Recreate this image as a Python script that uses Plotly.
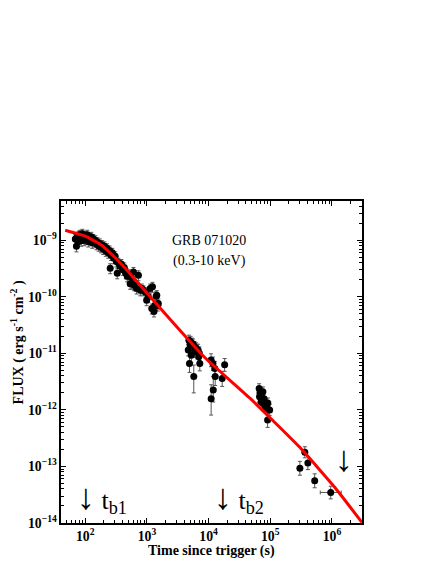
import plotly.graph_objects as go

SERIF = "Liberation Serif, Times New Roman, serif"

# early XRT light curve (t in s, flux in erg s^-1 cm^-2)
early_t = [69, 72, 74, 76, 78, 80, 82, 84, 86, 88, 90, 93, 96, 99, 102, 105, 108, 112,
           116, 120, 125, 130, 135, 140, 146, 152, 158, 165, 172, 180, 188, 196, 205,
           215, 225, 236, 248, 254, 262, 275, 290, 305, 320, 330, 345, 365, 385, 405,
           430, 455, 472, 480, 510, 535, 560, 570, 605, 620, 680, 728, 780, 826, 877,
           950, 990, 1050, 1127, 1200, 1230, 1300, 1350, 1410, 1445, 1500, 1530]
early_flux = [1.05e-9, 7.8e-10, 1.15e-9, 9.5e-10, 1.2e-9, 1.05e-9, 1.25e-9, 1.1e-9,
              9.8e-10, 1.2e-9, 1.3e-9, 1.1e-9, 1.0e-9, 1.2e-9, 1.15e-9, 1.05e-9, 1.25e-9,
              9.5e-10, 1.1e-9, 1.0e-9, 1.15e-9, 9.0e-10, 1.05e-9, 9.5e-10, 1.0e-9, 8.5e-10,
              9.2e-10, 8.0e-10, 8.8e-10, 7.5e-10, 8.2e-10, 7.0e-10, 7.8e-10, 6.5e-10,
              7.2e-10, 6.0e-10, 6.6e-10, 3.2e-10, 5.5e-10, 6.0e-10, 4.8e-10, 5.2e-10,
              4.2e-10, 2.6e-10, 4.0e-10, 3.5e-10, 3.8e-10, 3.0e-10, 3.3e-10, 2.6e-10,
              2.6e-10, 2.3e-10, 2.5e-10, 1.7e-10, 2.2e-10, 1.7e-10, 2.75e-10, 1.6e-10,
              1.4e-10, 2.4e-10, 1.3e-10, 1.4e-10, 1.3e-10, 1.2e-10, 8.7e-11, 1.0e-10,
              1.4e-10, 6.2e-11, 1.5e-10, 5.5e-11, 7.1e-11, 1.02e-10, 1.07e-10, 7.0e-11,
              7.6e-11]

# later observations with asymmetric errors
late_t = [4680, 4790, 5010, 4900, 5100, 5250, 5370, 5600, 5750, 5890, 6000, 6310, 6500,
          6760, 6920, 7080, 7200,
          10960, 11750, 12590, 12800, 11900, 11000, 16600, 18200,
          66000, 67000, 68000, 70800, 72000, 74000, 75900, 78000, 79400, 82000, 85100,
          88000, 91200, 90500, 97700,
          302000, 363000, 407000, 525000, 955000]
late_flux = [1.15e-11, 1.70e-11, 1.41e-11, 6.6e-12, 1.6e-11, 9.3e-12, 1.51e-11, 1.45e-11,
             3.9e-12, 1.32e-11, 1.1e-11, 1.23e-11, 1.05e-11, 1.15e-11, 8.7e-12, 1.0e-11,
             6.6e-12,
             7.6e-12, 6.6e-12, 5.4e-12, 3.9e-12, 2.24e-12, 1.58e-12, 3.6e-12, 6.3e-12,
             2.4e-12, 1.7e-12, 2.0e-12, 1.38e-12, 1.9e-12, 1.5e-12, 2.1e-12, 1.3e-12,
             1.58e-12, 1.2e-12, 1.07e-12, 1.15e-12, 1.32e-12, 6.6e-13, 1.0e-12,
             9.3e-14, 1.78e-13, 1.15e-13, 5.6e-14, 3.47e-14]
late_err_plus = [3e-12, 4e-12, 3.5e-12, 2.5e-12, 4e-12, 3e-12, 3.5e-12, 3.5e-12, 2.3e-12,
                 3e-12, 3e-12, 3e-12, 3e-12, 3e-12, 2.5e-12, 3e-12, 2e-12,
                 2.2e-12, 2e-12, 1.8e-12, 1.6e-12, 1.65e-12, 1.2e-12, 1.2e-12, 1.8e-12,
                 5e-13, 4e-13, 4.5e-13, 3.5e-13, 4e-13, 3.5e-13, 4.5e-13, 3e-13, 3.5e-13,
                 3e-13, 2.5e-13, 3e-13, 3e-13, 2e-13, 2.5e-13,
                 3e-14, 4.5e-14, 3.5e-14, 1.8e-14, 1.0e-14]
late_err_minus = [2.5e-12, 3.5e-12, 3e-12, 2e-12, 3e-12, 2.5e-12, 3e-12, 3e-12, 1.9e-12,
                  2.5e-12, 2.5e-12, 2.5e-12, 2.5e-12, 2.5e-12, 2e-12, 2.5e-12, 1.7e-12,
                  1.8e-12, 1.6e-12, 1.5e-12, 1.2e-12, 0.86e-12, 0.77e-12, 1.0e-12, 1.5e-12,
                  4e-13, 3.5e-13, 4e-13, 3e-13, 3.5e-13, 3e-13, 4e-13, 2.5e-13, 3e-13,
                  2.5e-13, 2e-13, 2.5e-13, 2.5e-13, 1.7e-13, 2e-13,
                  2.3e-14, 3.6e-14, 2.7e-14, 1.4e-14, 0.8e-14]
late_terr_plus = [0] * 40 + [20000, 25000, 30000, 40000, 455000]
late_terr_minus = [0] * 40 + [20000, 25000, 30000, 40000, 309000]

# fitted model
model_t = [47.4, 100, 175, 284, 444, 776, 2371, 8750, 46800, 301000, 1109000, 3070000]
model_flux = [1.50e-9, 1.18e-9, 8.50e-10, 5.32e-10, 3.20e-10, 1.60e-10, 4.01e-11,
              8.36e-12, 1.61e-12, 2.18e-13, 4.28e-14, 1.02e-14]

fig = go.Figure()

ERR_STYLE = dict(color="#555555", thickness=1, width=2)

fig.add_trace(go.Scatter(
    x=early_t, y=early_flux, mode="markers",
    marker=dict(color="black", size=7),
    error_y=dict(type="percent", value=20, **ERR_STYLE),
    showlegend=False,
))
fig.add_trace(go.Scatter(
    x=late_t, y=late_flux, mode="markers",
    marker=dict(color="black", size=7),
    error_y=dict(type="data", array=late_err_plus, arrayminus=late_err_minus, **ERR_STYLE),
    error_x=dict(type="data", array=late_terr_plus, arrayminus=late_terr_minus, **ERR_STYLE),
    showlegend=False,
))
fig.add_trace(go.Scatter(
    x=model_t, y=model_flux, mode="lines",
    line=dict(color="#ff0000", width=3, shape="spline", smoothing=0.4),
    showlegend=False,
))

axis_common = dict(
    type="log", showgrid=False, zeroline=False,
    showline=True, linecolor="black", linewidth=2, mirror="ticks",
    ticks="inside", ticklen=5, tickwidth=1, tickcolor="black",
    dtick=1, exponentformat="power",
    tickfont=dict(family=SERIF, size=11, color="black", weight="bold"),
    minor=dict(ticks="inside", ticklen=3, tickwidth=1, tickcolor="black", dtick="D1", showgrid=False),
)
fig.update_xaxes(range=[1.607, 6.487], **axis_common)
fig.update_yaxes(range=[-14, -8.306], **axis_common)

for txt, ypos in [("GRB 071020", 0.876), ("(0.3-10 keV)", 0.814)]:
    fig.add_annotation(text=txt, x=0.493, y=ypos, xref="paper", yref="paper",
                       showarrow=False, xanchor="center", yanchor="middle",
                       font=dict(family=SERIF, size=14, color="black"))

ARROW = '<span style="font-size:36px">↓</span>'
for txt, xpos, ypos, anchor in [(ARROW + " t<sub>b1</sub>", 0.045, 0.08, "left"),
                                (ARROW + " t<sub>b2</sub>", 0.50, 0.08, "left"),
                                (ARROW, 0.94, 0.2, "center")]:
    fig.add_annotation(text=txt, x=xpos, y=ypos, xref="paper", yref="paper",
                       showarrow=False, xanchor=anchor, yanchor="middle",
                       font=dict(family=SERIF, size=26, color="black"))

fig.add_annotation(text="<b>Time since trigger (s)</b>", x=0.5, y=-0.088,
                   xref="paper", yref="paper", showarrow=False,
                   xanchor="center", yanchor="middle",
                   font=dict(family=SERIF, size=14, color="black"))
fig.add_annotation(text="<b>FLUX ( erg s<sup>-1</sup> cm<sup>-2</sup> )</b>",
                   x=-0.146, y=0.561, xref="paper", yref="paper", showarrow=False,
                   textangle=-90, xanchor="center", yanchor="middle",
                   font=dict(family=SERIF, size=14, color="black"))

# page body adds an 8px offset, so margins are shifted by that much
fig.update_layout(
    width=436, height=564,
    margin=dict(l=53, r=82, t=193, b=49),
    paper_bgcolor="white", plot_bgcolor="white",
)

fig.write_html("out.html")
